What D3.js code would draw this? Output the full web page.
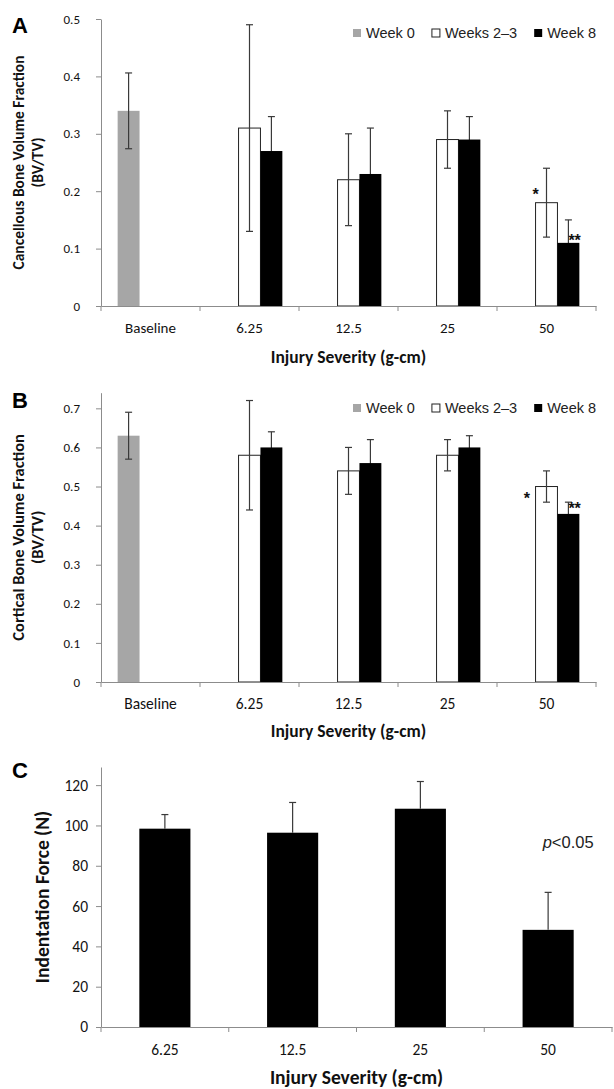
<!DOCTYPE html>
<html><head><meta charset="utf-8">
<script src="https://cdn.jsdelivr.net/npm/d3@7"></script>
<style>body{margin:0;background:#fff}</style>
</head><body>
<svg id="chart" width="614" height="1089"></svg>
<script>
// ---------- DATA ----------
const categoriesAB = ["Baseline", "6.25", "12.5", "25", "50"];
const seriesNames = ["Week 0", "Weeks 2–3", "Week 8"];

const cancWeek0      = [0.34, null, null, null, null];
const cancWeek0Err   = [0.066, null, null, null, null];
const cancWeeks23    = [null, 0.31, 0.22, 0.29, 0.18];
const cancWeeks23Err = [null, 0.18, 0.08, 0.05, 0.06];
const cancWeek8      = [null, 0.27, 0.23, 0.29, 0.11];
const cancWeek8Err   = [null, 0.06, 0.08, 0.04, 0.04];
const cancSig23      = ["", "", "", "", "*"];
const cancSig8       = ["", "", "", "", "**"];

const cortWeek0      = [0.63, null, null, null, null];
const cortWeek0Err   = [0.06, null, null, null, null];
const cortWeeks23    = [null, 0.58, 0.54, 0.58, 0.50];
const cortWeeks23Err = [null, 0.14, 0.06, 0.04, 0.04];
const cortWeek8      = [null, 0.60, 0.56, 0.60, 0.43];
const cortWeek8Err   = [null, 0.04, 0.06, 0.03, 0.03];
const cortSig23      = ["", "", "", "", "*"];
const cortSig8       = ["", "", "", "", "**"];

const categoriesC    = ["6.25", "12.5", "25", "50"];
const indentForce    = [98.4, 96.4, 108.3, 48.2];
const indentForceErr = [7.0, 15.0, 13.5, 18.6];
const indentNote     = ["", "", "", "p<0.05"];

const yTicksA = [0, 0.1, 0.2, 0.3, 0.4, 0.5];
const yTicksB = [0, 0.1, 0.2, 0.3, 0.4, 0.5, 0.6, 0.7];
const yTicksC = [0, 20, 40, 60, 80, 100, 120];

// ---------- STYLE ----------
const FC = "Carlito, Lato, 'Open Sans', sans-serif";
const FA = "'Liberation Sans', Arial, Helvetica, sans-serif";
const AXIS = "#8c8c8c";
const ERR = "#3a3a3a";
const seriesFill = {"Week 0": "#a6a6a6", "Weeks 2–3": "#ffffff", "Week 8": "#000000"};

const svg = d3.select("#chart");

function yFmt(d) { return d === 0 ? "0" : (Number.isInteger(d) ? String(d) : d3.format(".1f")(d)); }

function drawYAxis(g, y, ticks, xl, tickPad, fs) {
  const ax = g.append("g").attr("transform", `translate(${xl},0)`)
    .call(d3.axisLeft(y).tickValues(ticks).tickSize(5).tickSizeOuter(0).tickPadding(tickPad).tickFormat(yFmt));
  ax.select(".domain").attr("stroke", AXIS);
  ax.selectAll(".tick line").attr("stroke", AXIS);
  ax.selectAll(".tick text").attr("fill", "#111").attr("font-family", FC).attr("font-size", fs);
}

function drawXAxis(g, x, yb, labelDy, fs, boundaries) {
  const ax = g.append("g").attr("transform", `translate(0,${yb})`)
    .call(d3.axisBottom(x).tickSize(0).tickSizeOuter(0).tickPadding(labelDy));
  ax.select(".domain").attr("stroke", AXIS);
  ax.selectAll(".tick text").attr("fill", "#111").attr("font-family", FC).attr("font-size", fs);
  g.selectAll(null).data(boundaries).enter().append("line")
    .attr("x1", d => d).attr("x2", d => d).attr("y1", yb).attr("y2", yb + 5)
    .attr("stroke", AXIS);
}

function errBar(g, cx, yTop, yBot, capW, caps) {
  g.append("line").attr("x1", cx).attr("x2", cx).attr("y1", yTop).attr("y2", yBot)
    .attr("stroke", ERR).attr("stroke-width", 1.2);
  caps.forEach(cy => g.append("line").attr("x1", cx - capW / 2).attr("x2", cx + capW / 2)
    .attr("y1", cy).attr("y2", cy).attr("stroke", ERR).attr("stroke-width", 1.2));
}

function groupedPanel(o) {
  const g = svg.append("g");
  const x0 = d3.scaleBand().domain(categoriesAB).range([o.xl, o.xr]).padding(0);
  const x1 = d3.scaleBand().domain(seriesNames).range([0, x0.bandwidth()]).paddingInner(0).paddingOuter(0.76);
  const y = d3.scaleLinear().domain([0, o.ymax]).range([o.yb, o.yt]);

  const drawErr = s => categoriesAB.forEach((c, i) => {
    if (s.vals[i] == null) return;
    const cx = x0(c) + x1(s.name) + x1.bandwidth() / 2;
    const t = y(s.vals[i] + s.errs[i]), b = y(s.vals[i] - s.errs[i]);
    errBar(g, cx, t, b, 7, [t, b]);
  });

  // error bars of filled black series go behind their bars
  o.series.filter(s => s.name === "Week 8").forEach(drawErr);
  o.series.forEach(s => {
    categoriesAB.forEach((c, i) => {
      if (s.vals[i] == null) return;
      const bx = x0(c) + x1(s.name), bw = x1.bandwidth();
      g.append("rect").attr("x", bx).attr("y", y(s.vals[i])).attr("width", bw).attr("height", y(0) - y(s.vals[i]))
        .attr("fill", seriesFill[s.name])
        .attr("stroke", s.name === "Weeks 2–3" ? "#222" : "none").attr("stroke-width", 1);
    });
  });
  o.series.filter(s => s.name !== "Week 8").forEach(drawErr);

  // significance marks
  o.series.forEach(s => {
    if (!s.sig) return;
    categoriesAB.forEach((c, i) => {
      if (!s.sig[i]) return;
      const bx = x0(c) + x1(s.name), bw = x1.bandwidth();
      const a = s.name === "Weeks 2–3" ? o.sig23 : o.sig8;
      g.append("text").attr("x", bx + a.dx * bw).attr("y", y(s.vals[i]) + a.dy)
        .attr("text-anchor", a.anchor).attr("font-family", FA).attr("font-weight", "bold").attr("font-size", 16)
        .attr("fill", "#111").text(s.sig[i]);
    });
  });

  drawYAxis(g, y, o.ticks, o.xl, o.tickPad, o.yTickFs);
  const bounds = categoriesAB.map(c => x0(c)).concat([o.xr]);
  drawXAxis(g, x0, o.yb, o.xLabDy, o.xTickFs, bounds);

  // axis titles
  const ym = (o.yb + o.yt) / 2;
  [[o.ytX1, o.ytitle], [o.ytX2, "(BV/TV)"]].forEach(([tx, txt]) => {
    g.append("text").attr("transform", `translate(${tx},${ym}) rotate(-90)`)
      .attr("text-anchor", "middle").attr("dominant-baseline", "central")
      .attr("font-family", FC).attr("font-weight", "bold").attr("font-size", o.ytFs).attr("fill", "#111")
      .text(txt);
  });
  g.append("text").attr("x", (o.xl + o.xr) / 2).attr("y", o.xtY)
    .attr("text-anchor", "middle").attr("dominant-baseline", "central")
    .attr("font-family", FC).attr("font-weight", "bold").attr("font-size", o.xtFs).attr("fill", "#111")
    .text("Injury Severity (g-cm)");

  // legend
  let lx = o.legX;
  seriesNames.forEach(n => {
    g.append("rect").attr("x", lx).attr("y", o.legY - 4).attr("width", 8).attr("height", 8)
      .attr("fill", seriesFill[n]).attr("stroke", n === "Weeks 2–3" ? "#222" : "none").attr("stroke-width", 1);
    const t = g.append("text").attr("x", lx + 13).attr("y", o.legY).attr("dominant-baseline", "central")
      .attr("font-family", FA).attr("font-size", 14.5).attr("fill", "#222").text(n);
    lx = lx + 13 + t.node().getComputedTextLength() + 17;
  });

  // panel letter
  g.append("text").attr("x", 12).attr("y", o.letterY).attr("font-family", FA).attr("font-weight", "bold")
    .attr("font-size", 22).attr("fill", "#000").text(o.letter);
}

groupedPanel({
  letter: "A", letterY: 33,
  xl: 101, xr: 596, yb: 306, yt: 19, ymax: 0.5, ticks: yTicksA,
  tickPad: 16, yTickFs: 13, xTickFs: 15, xLabDy: 16,
  ytitle: "Cancellous Bone Volume Fraction", ytX1: 18, ytX2: 37, ytFs: 15.5,
  xtY: 357, xtFs: 17.5,
  legX: 353, legY: 33,
  sig23: {dx: 0, dy: -3, anchor: "middle"},
  sig8: {dx: 0.5, dy: 3, anchor: "start"},
  series: [
    {name: "Week 0", vals: cancWeek0, errs: cancWeek0Err},
    {name: "Weeks 2–3", vals: cancWeeks23, errs: cancWeeks23Err, sig: cancSig23},
    {name: "Week 8", vals: cancWeek8, errs: cancWeek8Err, sig: cancSig8}
  ]
});

groupedPanel({
  letter: "B", letterY: 408,
  xl: 101, xr: 596, yb: 682, yt: 392.7, ymax: 0.74, ticks: yTicksB,
  tickPad: 16, yTickFs: 13, xTickFs: 15.5, xLabDy: 16,
  ytitle: "Cortical Bone Volume Fraction", ytX1: 18, ytX2: 37, ytFs: 16.5,
  xtY: 731, xtFs: 17.5,
  legX: 353, legY: 408,
  sig23: {dx: -0.4, dy: 17, anchor: "middle"},
  sig8: {dx: 0.5, dy: 0, anchor: "start"},
  series: [
    {name: "Week 0", vals: cortWeek0, errs: cortWeek0Err},
    {name: "Weeks 2–3", vals: cortWeeks23, errs: cortWeeks23Err, sig: cortSig23},
    {name: "Week 8", vals: cortWeek8, errs: cortWeek8Err, sig: cortSig8}
  ]
});

// ---------- Panel C ----------
(function () {
  const g = svg.append("g");
  const xl = 101, xr = 612, yb = 1027, yt = 767;
  const x = d3.scaleBand().domain(categoriesC).range([xl, xr]).paddingInner(0.6).paddingOuter(0.3);
  const y = d3.scaleLinear().domain([0, 129]).range([yb, yt]);
  categoriesC.forEach((c, i) => {
    g.append("rect").attr("x", x(c)).attr("y", y(indentForce[i])).attr("width", x.bandwidth())
      .attr("height", y(0) - y(indentForce[i])).attr("fill", "#000");
  });
  categoriesC.forEach((c, i) => {
    const cx = x(c) + x.bandwidth() / 2;
    const t = y(indentForce[i] + indentForceErr[i]);
    errBar(g, cx, t, y(indentForce[i]), 7, [t]);
  });
  categoriesC.forEach((c, i) => {
    if (!indentNote[i]) return;
    const cx = x(c) + x.bandwidth() / 2 + 20;
    const t = g.append("text").attr("x", cx).attr("y", y(indentForce[i] + indentForceErr[i]) - 50)
      .attr("text-anchor", "middle").attr("dominant-baseline", "central")
      .attr("font-family", FA).attr("font-size", 16.5).attr("fill", "#222");
    t.append("tspan").attr("font-style", "italic").text(indentNote[i].slice(0, 1));
    t.append("tspan").text(indentNote[i].slice(1));
  });
  drawYAxis(g, y, yTicksC, xl, 8, 15.5);
  const step = x.step();
  const bounds = categoriesC.map(c => x(c) + x.bandwidth() / 2 - step / 2).concat([xr]);
  drawXAxis(g, x, yb, 17, 15.5, bounds);
  g.append("text").attr("transform", `translate(42,${(yb + yt) / 2}) rotate(-90)`)
    .attr("text-anchor", "middle").attr("dominant-baseline", "central")
    .attr("font-family", FC).attr("font-weight", "bold").attr("font-size", 19.5).attr("fill", "#111")
    .text("Indentation Force (N)");
  g.append("text").attr("x", (xl + xr) / 2).attr("y", 1077)
    .attr("text-anchor", "middle").attr("dominant-baseline", "central")
    .attr("font-family", FC).attr("font-weight", "bold").attr("font-size", 19.5).attr("fill", "#111")
    .text("Injury Severity (g-cm)");
  g.append("text").attr("x", 12).attr("y", 778).attr("font-family", FA).attr("font-weight", "bold")
    .attr("font-size", 22).attr("fill", "#000").text("C");
})();
</script>
</body></html>
